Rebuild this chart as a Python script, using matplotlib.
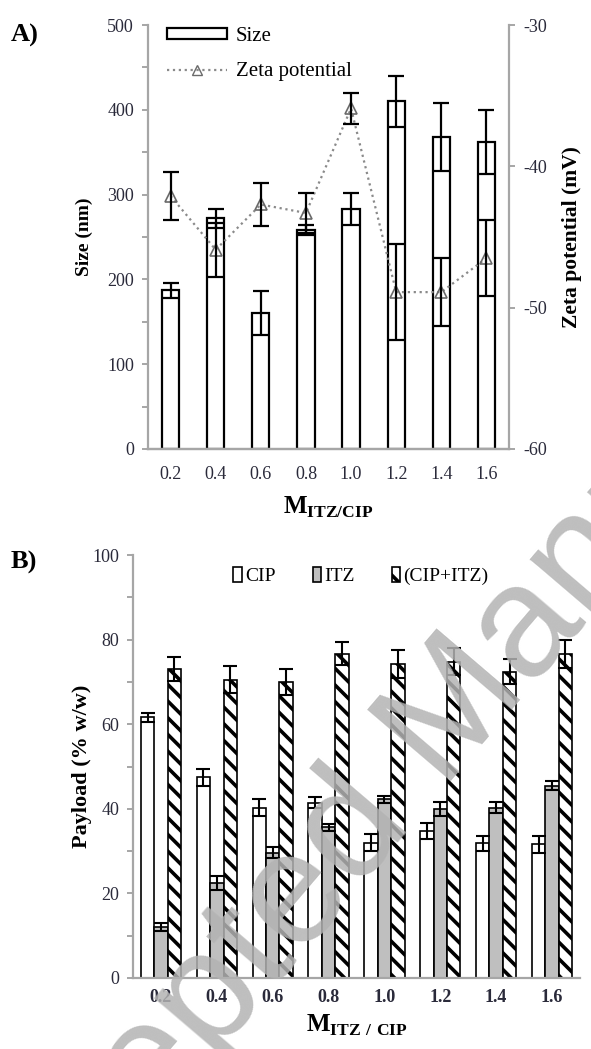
import numpy as np
import matplotlib
matplotlib.use("Agg")
import matplotlib.pyplot as plt
from matplotlib.patches import Patch
from matplotlib.lines import Line2D

plt.rcParams['font.family'] = ['Liberation Serif', 'DejaVu Serif']
plt.rcParams['mathtext.fontset'] = 'custom'
plt.rcParams['mathtext.rm'] = 'Liberation Serif'
plt.rcParams['mathtext.bf'] = 'Liberation Serif:bold'
plt.rcParams['hatch.color'] = 'black'
plt.rcParams['hatch.linewidth'] = 2.6
plt.rcParams['axes.unicode_minus'] = False

# ----- data -----
ratios = ['0.2', '0.4', '0.6', '0.8', '1.0', '1.2', '1.4', '1.6']

size_nm = [187, 272, 160, 258, 283, 410, 368, 362]
size_err = [9, 11, 26, 6, 19, 30, 40, 38]
zeta_mv = [-42.1, -45.9, -42.7, -43.3, -35.9, -48.9, -48.9, -46.5]
zeta_err = [1.7, 1.9, 1.5, 1.4, 1.1, 3.4, 2.4, 2.7]

cip = [61.6, 47.5, 40.3, 41.4, 32.0, 34.8, 31.8, 31.6]
cip_err = [1.1, 2.0, 1.9, 1.3, 2.0, 1.9, 1.7, 2.0]
itz = [12.0, 22.5, 29.6, 35.6, 42.2, 40.0, 40.3, 45.5]
itz_err = [1.0, 1.7, 1.3, 0.8, 0.8, 1.7, 1.3, 1.0]
combo = [73.0, 70.5, 70.0, 76.7, 74.3, 74.8, 72.4, 76.7]
combo_err = [2.8, 3.2, 3.0, 2.8, 3.3, 3.2, 2.9, 3.3]

SPINE = '#a6a6a6'
TXT = '#2a2a3a'
W, H = 591, 1049
x = np.arange(len(ratios))

fig = plt.figure(figsize=(W / 100, H / 100), dpi=100)


def px_axes(l, t, r, b):
    return fig.add_axes([l / W, 1 - b / H, (r - l) / W, (b - t) / H])


def style(ax, right=False):
    for s in ['top', 'right', 'left', 'bottom']:
        ax.spines[s].set_visible(False)
    ax.spines['bottom'].set_visible(True)
    ax.spines['bottom'].set_color(SPINE)
    ax.spines['bottom'].set_linewidth(1.6)
    side = 'right' if right else 'left'
    ax.spines[side].set_visible(True)
    ax.spines[side].set_color(SPINE)
    ax.spines[side].set_linewidth(1.6)
    ax.tick_params(axis='y', direction='out', length=4, width=1.4, color=SPINE,
                   labelsize=13, labelcolor=TXT, pad=6)
    ax.tick_params(axis='x', length=0, labelsize=13, labelcolor=TXT)


# ------ panel A ------
axA = px_axes(148, 25, 509, 449)
axA.bar(x, size_nm, width=0.38, color='white', edgecolor='black', lw=1.6,
        zorder=2)
axA.errorbar(x, size_nm, yerr=size_err, fmt='none', ecolor='black',
             elinewidth=1.6, capsize=6, capthick=1.6, zorder=3)
axA.set_xlim(-0.5, 7.5)
axA.set_ylim(0, 500)
axA.set_yticks(np.arange(0, 501, 50))
axA.set_yticklabels([str(v) if v % 100 == 0 else '' for v in range(0, 501, 50)])
axA.set_xticks(x)
axA.set_xticklabels(ratios)
style(axA)
axA.tick_params(axis='x', pad=12)
axA.set_ylabel('Size (nm)', fontsize=14, fontweight='bold', labelpad=10)
axA.set_xlabel(r'$\mathbf{M}_{\mathbf{ITZ/CIP}}$', fontsize=18, labelpad=9)

axZ = axA.twinx()
axZ.plot(x, zeta_mv, ls=':', color='#8a8a8a', lw=1.6, marker='^', ms=9,
         mfc='none', mec='#6a6a6a', mew=1.2, zorder=4)
axZ.errorbar(x, zeta_mv, yerr=zeta_err, fmt='none', ecolor='black',
             elinewidth=1.6, capsize=6, capthick=1.6, zorder=5)
axZ.set_ylim(-60, -30)
axZ.set_yticks([-60, -50, -40, -30])
style(axZ, right=True)
axZ.set_ylabel('Zeta potential (mV)', fontsize=15.5, fontweight='bold',
               rotation=90, labelpad=11)

hA = [Patch(facecolor='white', edgecolor='black', lw=1.6),
      Line2D([], [], ls=':', color='#8a8a8a', lw=1.6, marker='^', ms=7,
             mfc='none', mec='#6a6a6a')]
axZ.legend(hA, ['Size', 'Zeta potential'], loc='upper left',
           bbox_to_anchor=(0.0, 1.04), frameon=False, fontsize=15,
           handlelength=2.9, handleheight=0.4, handletextpad=0.4,
           labelspacing=0.8)

fig.text(11 / W, 1 - 35 / H, 'A)', fontsize=19, fontweight='bold',
         va='center', ha='left')

# ------ panel B ------
axB = px_axes(133, 555, 580, 978)
bw = 0.24
axB.bar(x - bw, cip, width=bw, color='white', edgecolor='black', lw=1.2,
        zorder=2)
axB.bar(x, itz, width=bw, color='#bfbfbf', edgecolor='black', lw=1.2,
        zorder=2)
axB.bar(x + bw, combo, width=bw, color='white', edgecolor='black', lw=1.2,
        hatch='\\\\', zorder=2)
for off, vals, errs in [(-bw, cip, cip_err), (0, itz, itz_err),
                        (bw, combo, combo_err)]:
    axB.errorbar(x + off, vals, yerr=errs, fmt='none', ecolor='black',
                 elinewidth=1.5, capsize=5, capthick=1.5, zorder=3)
axB.set_xlim(-0.5, 7.5)
axB.set_ylim(0, 100)
axB.set_yticks(np.arange(0, 101, 10))
axB.set_yticklabels([str(v) if v % 20 == 0 else '' for v in range(0, 101, 10)])
axB.set_xticks(x)
axB.set_xticklabels(ratios, fontweight='bold')
style(axB)
axB.tick_params(axis='x', pad=8)
axB.set_ylabel('Payload (% w/w)', fontsize=16, fontweight='bold', labelpad=0)
axB.set_xlabel(r'$\mathbf{M}_{\mathbf{ITZ\ /\ CIP}}$', fontsize=18,
               labelpad=5)

hB = [Patch(facecolor='white', edgecolor='black', lw=1.2),
      Patch(facecolor='#bfbfbf', edgecolor='black', lw=1.2),
      Patch(facecolor='white', edgecolor='black', lw=1.2, hatch='\\\\')]
axB.legend(hB, ['CIP', 'ITZ', '(CIP+ITZ)'], loc='center',
           bbox_to_anchor=(0.51, 0.95), ncol=3, frameon=False, fontsize=14,
           handlelength=0.45, handleheight=0.8, handletextpad=0.15,
           columnspacing=1.9)

fig.text(11 / W, 1 - 562 / H, 'B)', fontsize=19, fontweight='bold',
         va='center', ha='left')

# watermark
fig.text(435 / W, 1 - 737 / H, 'Accepted Manuscript', fontsize=115,
         family='Liberation Sans', color='#b3b3b3', alpha=0.85,
         rotation=49.5, rotation_mode='anchor', ha='center', va='center',
         zorder=10)

fig.savefig('out.png', dpi=100)
